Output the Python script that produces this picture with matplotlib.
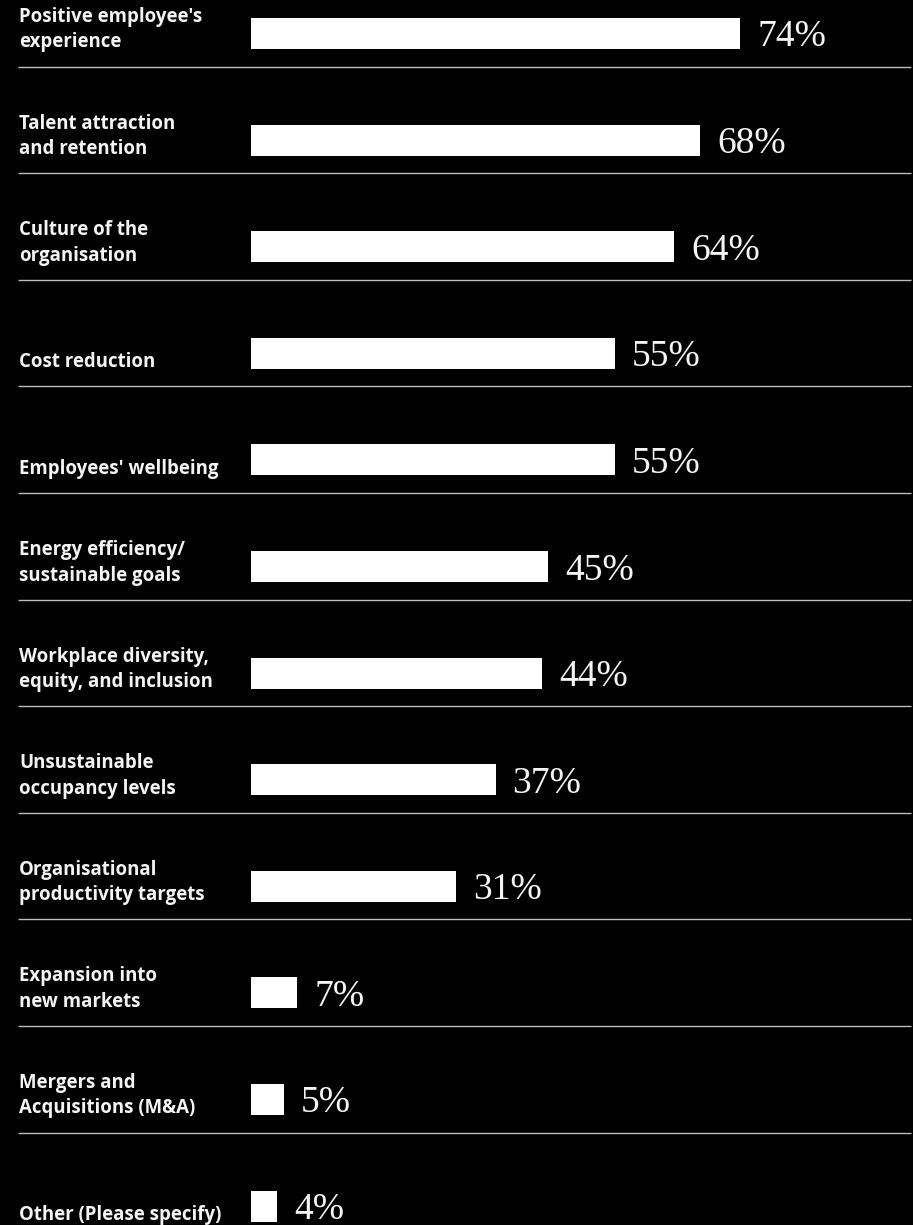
import matplotlib
matplotlib.use('Agg')
import matplotlib.pyplot as plt

labels = ["Positive employee's\nexperience",
          "Talent attraction\nand retention",
          "Culture of the\norganisation",
          "Cost reduction",
          "Employees' wellbeing",
          "Energy efficiency/\nsustainable goals",
          "Workplace diversity,\nequity, and inclusion",
          "Unsustainable\noccupancy levels",
          "Organisational\nproductivity targets",
          "Expansion into\nnew markets",
          "Mergers and\nAcquisitions (M&A)",
          "Other (Please specify)"]
values = [74, 68, 64, 55, 55, 45, 44, 37, 31, 7, 5, 4]

n = len(values)
pos = list(range(n))

fig = plt.figure(figsize=(9.13, 12.25), dpi=100, facecolor='black')
ax = fig.add_axes([0, 0, 1, 1])
ax.set_facecolor('black')

# pixel layout: bars start at x=251, 6.61 px per %, rows 106.6 px apart
px_x = 6.61
px_y = 106.6
ax.set_xlim(-251 / px_x, (913 - 251) / px_x)
ax.set_ylim((1225 - 33.5) / px_y, -33.5 / px_y)

ax.barh(pos, values, height=31 / px_y, color='white', left=0)

# separators under each row except the last
ax.hlines([p + 33 / px_y for p in pos[:-1]], (18 - 251) / px_x, (911 - 251) / px_x,
          color='#bdbdbd', linewidth=1.0)

for p, lab, v in zip(pos, labels, values):
    ax.text((19 - 251) / px_x, p + 19 / px_y, lab, color='#f4f4f4', fontsize=13.4,
            fontweight='bold', family=['Open Sans', 'DejaVu Sans'], ha='left', va='bottom',
            linespacing=1.36)
    ax.text(v + 17 / px_x, p + 13 / px_y, '{}%'.format(v), color='#f4f4f4',
            fontsize=27, family='Liberation Serif', ha='left', va='baseline')

ax.axis('off')
fig.savefig('out.png', dpi=100, facecolor='black')
